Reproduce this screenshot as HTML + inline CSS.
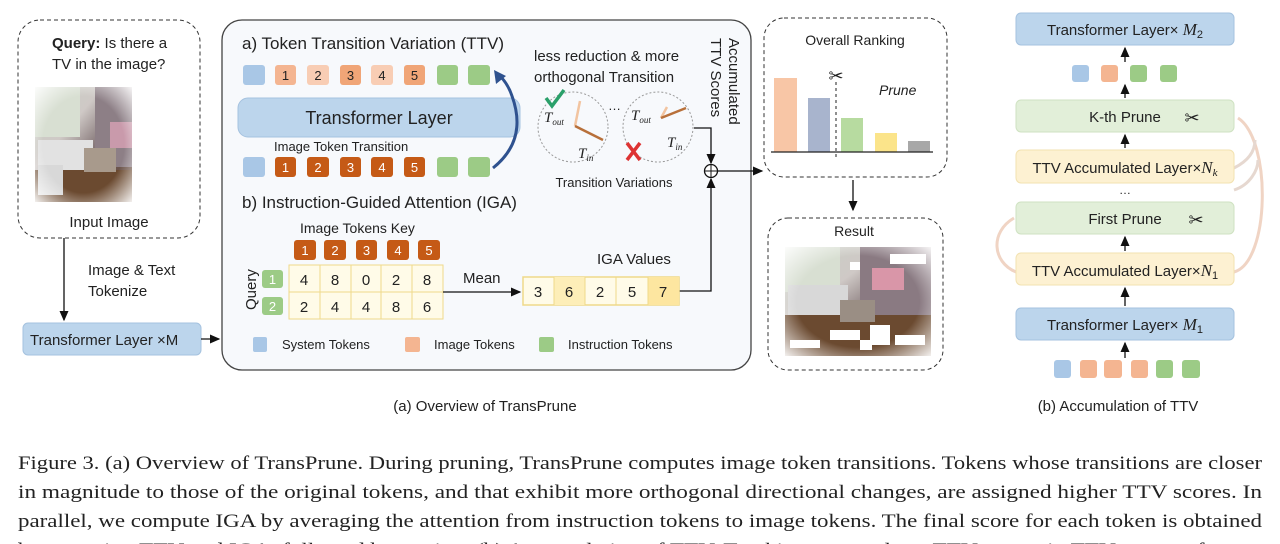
<!DOCTYPE html>
<html><head><meta charset="utf-8"><style>
html,body{margin:0;padding:0;background:#fff;}
svg{display:block;}
text{font-family:"Liberation Sans",sans-serif;fill:#222;}
.s{font-family:"Liberation Serif",serif;}
</style></head><body>
<svg width="1280" height="544" viewBox="0 0 1280 544" xmlns="http://www.w3.org/2000/svg">
<defs>
<marker id="ar" markerWidth="8" markerHeight="8" refX="7" refY="4" orient="auto"><path d="M0,0.5 L8,4 L0,7.5 z" fill="#111"/></marker>
<linearGradient id="room" x1="0" y1="0" x2="1" y2="1">
<stop offset="0" stop-color="#c8d0c4"/><stop offset="0.35" stop-color="#cfc9c6"/><stop offset="0.6" stop-color="#7a6a6c"/><stop offset="1" stop-color="#5a3a24"/></linearGradient>
<radialGradient id="vig" cx="0.5" cy="0.5" r="0.7"><stop offset="0.6" stop-color="#fff" stop-opacity="0"/><stop offset="1" stop-color="#fff" stop-opacity="0.9"/></radialGradient>
</defs>

<rect x="18" y="20" width="182" height="218" rx="22" fill="none" stroke="#333" stroke-dasharray="4,3"/>
<text x="52" y="48" font-size="15"><tspan font-weight="bold">Query:</tspan> Is there a</text>
<text x="52" y="69" font-size="15">TV in the image?</text>
<rect x="35" y="87" width="97" height="115" fill="url(#room)"/>
<rect x="35" y="87" width="45" height="50" fill="#d8dfd2"/>
<rect x="95" y="87" width="37" height="80" fill="#8d7f86"/>
<rect x="35" y="170" width="97" height="32" fill="#6b4a30"/>
<rect x="38" y="140" width="55" height="30" fill="#e2e2e2"/>
<rect x="38" y="165" width="25" height="30" fill="#d8d8d8"/>
<rect x="84" y="148" width="32" height="24" fill="#a89a8c"/>
<rect x="110" y="122" width="22" height="26" fill="#c99aab"/>
<rect x="35" y="87" width="97" height="115" fill="url(#vig)"/>
<text x="109" y="227" font-size="15" text-anchor="middle">Input Image</text>
<line x1="64" y1="238" x2="64" y2="320" stroke="#111" stroke-width="1.3" marker-end="url(#ar)"/>
<text x="88" y="275" font-size="15">Image &amp; Text</text>
<text x="88" y="296" font-size="15">Tokenize</text>
<rect x="23" y="323" width="178" height="32" rx="5" fill="#bcd5ec" stroke="#a5c2df"/>
<text x="30" y="345" font-size="15">Transformer Layer  ×M</text>
<line x1="201" y1="339" x2="219" y2="339" stroke="#111" stroke-width="1.3" marker-end="url(#ar)"/>

<rect x="222" y="20" width="529" height="350" rx="20" fill="#f7f9fc" stroke="#444" stroke-width="1.3"/>
<text x="242" y="49" font-size="17">a) Token Transition Variation (TTV)</text>
<rect x="243" y="65" width="22" height="20" rx="3" fill="#a9c7e6"/>
<g font-size="13" text-anchor="middle">
<rect x="275" y="65" width="21" height="20" rx="3" fill="#f4b591"/><text x="285.5" y="80">1</text>
<rect x="307" y="65" width="22" height="20" rx="3" fill="#f8cdb4"/><text x="318" y="80">2</text>
<rect x="340" y="65" width="21" height="20" rx="3" fill="#f0a577"/><text x="350.5" y="80">3</text>
<rect x="371" y="65" width="22" height="20" rx="3" fill="#f8cdb4"/><text x="382" y="80">4</text>
<rect x="404" y="65" width="21" height="20" rx="3" fill="#f0a577"/><text x="414.5" y="80">5</text>
</g>
<rect x="437" y="65" width="21" height="20" rx="3" fill="#9ccb86"/>
<rect x="468" y="65" width="22" height="20" rx="3" fill="#9ccb86"/>
<rect x="238" y="98" width="282" height="39" rx="10" fill="#bcd5ec" stroke="#a5c2df"/>
<text x="379" y="124" font-size="18" text-anchor="middle">Transformer Layer</text>
<text x="274" y="151" font-size="13">Image Token Transition</text>
<rect x="243" y="157" width="22" height="20" rx="3" fill="#a9c7e6"/>
<g font-size="13" text-anchor="middle">
<rect x="275" y="157" width="21" height="20" rx="3" fill="#c55a16"/><text x="285.5" y="172" style="fill:#fff">1</text>
<rect x="307" y="157" width="22" height="20" rx="3" fill="#c55a16"/><text x="318" y="172" style="fill:#fff">2</text>
<rect x="340" y="157" width="21" height="20" rx="3" fill="#c55a16"/><text x="350.5" y="172" style="fill:#fff">3</text>
<rect x="371" y="157" width="22" height="20" rx="3" fill="#c55a16"/><text x="382" y="172" style="fill:#fff">4</text>
<rect x="404" y="157" width="21" height="20" rx="3" fill="#c55a16"/><text x="414.5" y="172" style="fill:#fff">5</text>
</g>
<rect x="437" y="157" width="21" height="20" rx="3" fill="#9ccb86"/>
<rect x="468" y="157" width="22" height="20" rx="3" fill="#9ccb86"/>
<path d="M493,168 Q528,140 512,96 Q508,84 500,76" fill="none" stroke="#2f528f" stroke-width="3"/>
<path d="M494,70 L506,76 L496,84 z" fill="#2f528f"/>

<text x="534" y="61" font-size="15">less reduction &amp; more</text>
<text x="534" y="82" font-size="15">orthogonal Transition</text>
<circle cx="573" cy="127" r="35" fill="none" stroke="#999" stroke-dasharray="2,2"/>
<circle cx="658" cy="127" r="35" fill="none" stroke="#999" stroke-dasharray="2,2"/>
<path d="M546,98 L552,106 L564,90" fill="none" stroke="#2aa06a" stroke-width="3.5"/>
<line x1="575" y1="126" x2="580" y2="101" stroke="#f2c4a0" stroke-width="2.5"/>
<line x1="575" y1="126" x2="603" y2="140" stroke="#b8703a" stroke-width="2.5"/>
<text x="544" y="122" font-size="15" class="s" font-style="italic">T<tspan font-size="9" dy="3">out</tspan></text>
<text x="578" y="158" font-size="15" class="s" font-style="italic">T<tspan font-size="9" dy="3">in</tspan></text>
<text x="608" y="110" font-size="13">…</text>
<text x="631" y="120" font-size="15" class="s" font-style="italic">T<tspan font-size="9" dy="3">out</tspan></text>
<line x1="661" y1="118" x2="667" y2="107" stroke="#f2c4a0" stroke-width="2.5"/>
<line x1="661" y1="118" x2="686" y2="108" stroke="#b8703a" stroke-width="2.5"/>
<text x="667" y="147" font-size="15" class="s" font-style="italic">T<tspan font-size="9" dy="3">in</tspan></text>
<path d="M627,143 L640,160 M640,143 L627,160" stroke="#d33" stroke-width="3.5"/>
<text x="614" y="187" font-size="13" text-anchor="middle">Transition Variations</text>
<text transform="translate(729,38) rotate(90)" font-size="15">Accumulated</text>
<text transform="translate(711,38) rotate(90)" font-size="15">TTV Scores</text>
<polyline points="694,128 711,128 711,163" fill="none" stroke="#111" stroke-width="1.3" marker-end="url(#ar)"/>
<circle cx="711" cy="171" r="6.5" fill="#fff" stroke="#111" stroke-width="1.3"/>
<line x1="704.5" y1="171" x2="717.5" y2="171" stroke="#111"/>
<line x1="711" y1="164.5" x2="711" y2="177.5" stroke="#111"/>
<polyline points="679,291 711,291 711,179" fill="none" stroke="#111" stroke-width="1.3" marker-end="url(#ar)"/>
<line x1="717" y1="171" x2="762" y2="171" stroke="#111" stroke-width="1.3" marker-end="url(#ar)"/>

<text x="242" y="208" font-size="17">b) Instruction-Guided Attention (IGA)</text>
<text x="300" y="233" font-size="14">Image Tokens Key</text>
<g font-size="13" text-anchor="middle">
<rect x="294" y="240" width="22" height="20" rx="3" fill="#c55a16"/><text x="305" y="255" style="fill:#fff">1</text>
<rect x="324" y="240" width="22" height="20" rx="3" fill="#c55a16"/><text x="335" y="255" style="fill:#fff">2</text>
<rect x="356" y="240" width="21" height="20" rx="3" fill="#c55a16"/><text x="366.5" y="255" style="fill:#fff">3</text>
<rect x="387" y="240" width="22" height="20" rx="3" fill="#c55a16"/><text x="398" y="255" style="fill:#fff">4</text>
<rect x="418" y="240" width="22" height="20" rx="3" fill="#c55a16"/><text x="429" y="255" style="fill:#fff">5</text>
<rect x="262" y="270" width="21" height="18" rx="3" fill="#9ccb86"/><text x="272.5" y="284" style="fill:#fff">1</text>
<rect x="262" y="297" width="21" height="18" rx="3" fill="#9ccb86"/><text x="272.5" y="311" style="fill:#fff">2</text>
</g>
<text transform="translate(256,310) rotate(-90)" font-size="15">Query</text>
<rect x="289" y="265" width="154" height="54" fill="#fffbe8" stroke="#efd98a"/>
<g stroke="#efd98a"><line x1="320" y1="265" x2="320" y2="319"/><line x1="351" y1="265" x2="351" y2="319"/><line x1="381" y1="265" x2="381" y2="319"/><line x1="412" y1="265" x2="412" y2="319"/><line x1="289" y1="292" x2="443" y2="292"/></g>
<g font-size="15" text-anchor="middle">
<text x="304" y="285">4</text><text x="335" y="285">8</text><text x="366" y="285">0</text><text x="396" y="285">2</text><text x="427" y="285">8</text>
<text x="304" y="312">2</text><text x="335" y="312">4</text><text x="366" y="312">4</text><text x="396" y="312">8</text><text x="427" y="312">6</text>
</g>
<text x="463" y="283" font-size="15">Mean</text>
<line x1="443" y1="292" x2="520" y2="292" stroke="#111" stroke-width="1.3" marker-end="url(#ar)"/>
<text x="597" y="264" font-size="15">IGA Values</text>
<rect x="523" y="277" width="156" height="28" fill="#fffbe8" stroke="#efd98a" stroke-width="1.5"/>
<rect x="554" y="277" width="31" height="28" fill="#fdeeb8"/>
<rect x="648" y="277" width="31" height="28" fill="#fde6a0"/>
<g stroke="#efd98a"><line x1="554" y1="277" x2="554" y2="305"/><line x1="585" y1="277" x2="585" y2="305"/><line x1="616" y1="277" x2="616" y2="305"/><line x1="648" y1="277" x2="648" y2="305"/></g>
<g font-size="15" text-anchor="middle"><text x="538" y="297">3</text><text x="569" y="297">6</text><text x="600" y="297">2</text><text x="632" y="297">5</text><text x="663" y="297">7</text></g>
<rect x="253" y="337" width="14" height="15" rx="2" fill="#a9c7e6"/><text x="282" y="349" font-size="13">System Tokens</text>
<rect x="405" y="337" width="15" height="15" rx="2" fill="#f4b591"/><text x="434" y="349" font-size="13">Image Tokens</text>
<rect x="539" y="337" width="15" height="15" rx="2" fill="#9ccb86"/><text x="568" y="349" font-size="13">Instruction Tokens</text>

<rect x="764" y="18" width="183" height="159" rx="20" fill="none" stroke="#333" stroke-dasharray="4,3"/>
<text x="855" y="45" font-size="14" text-anchor="middle">Overall Ranking</text>
<rect x="774" y="78" width="23" height="74" fill="#f8c6a6"/>
<rect x="808" y="98" width="22" height="54" fill="#a8b4cd"/>
<rect x="841" y="118" width="22" height="34" fill="#b7dba0"/>
<rect x="875" y="133" width="22" height="19" fill="#fbe48a"/>
<rect x="908" y="141" width="22" height="11" fill="#a8a8a8"/>
<line x1="771" y1="152" x2="933" y2="152" stroke="#222" stroke-width="1.3"/>
<line x1="836" y1="82" x2="836" y2="160" stroke="#222" stroke-dasharray="3,3"/>
<text x="836" y="82" font-size="18" text-anchor="middle">✂</text>
<text x="879" y="95" font-size="14" font-style="italic">Prune</text>
<line x1="853" y1="180" x2="853" y2="210" stroke="#111" stroke-width="1.3" marker-end="url(#ar)"/>
<rect x="768" y="218" width="175" height="152" rx="20" fill="none" stroke="#333" stroke-dasharray="4,3"/>
<text x="854" y="236" font-size="14" text-anchor="middle">Result</text>
<rect x="785" y="247" width="146" height="109" fill="url(#room)"/>
<rect x="785" y="247" width="55" height="45" fill="#d8dfd2"/>
<rect x="860" y="247" width="71" height="70" fill="#8a7a82"/>
<rect x="785" y="315" width="146" height="41" fill="#6b4a30"/>
<rect x="788" y="285" width="60" height="30" fill="#d8d8d8"/>
<rect x="840" y="300" width="35" height="22" fill="#9a8e84"/>
<rect x="872" y="268" width="32" height="22" fill="#d996a8"/>
<g fill="#fff"><rect x="890" y="254" width="36" height="10"/><rect x="850" y="262" width="10" height="8"/><rect x="830" y="330" width="30" height="10"/><rect x="870" y="325" width="20" height="20"/><rect x="895" y="335" width="30" height="10"/><rect x="790" y="340" width="30" height="8"/><rect x="860" y="340" width="12" height="10"/></g>
<rect x="785" y="247" width="146" height="109" fill="url(#vig)"/>

<path d="M1234,272 C1270,262 1272,140 1238,118" fill="none" stroke="#f0d4c4" stroke-width="3"/>
<path d="M1234,168 C1250,160 1255,150 1255,140" fill="none" stroke="#e6d8d0" stroke-width="3"/>
<path d="M1234,190 C1250,185 1258,170 1258,160" fill="none" stroke="#e6d8d0" stroke-width="3"/>
<path d="M1016,272 C992,262 990,232 1014,218" fill="none" stroke="#f0d4c4" stroke-width="3"/>
<rect x="1016" y="13" width="218" height="32" rx="5" fill="#bcd5ec" stroke="#a5c2df"/>
<text x="1125" y="35" font-size="15" text-anchor="middle">Transformer Layer× <tspan class="s" font-style="italic" font-size="17">M</tspan><tspan font-size="11" dy="3">2</tspan></text>
<line x1="1125" y1="62" x2="1125" y2="48" stroke="#111" stroke-width="1.3" marker-end="url(#ar)"/>
<rect x="1072" y="65" width="17" height="17" rx="3" fill="#a9c7e6"/>
<rect x="1101" y="65" width="17" height="17" rx="3" fill="#f4b591"/>
<rect x="1130" y="65" width="17" height="17" rx="3" fill="#9ccb86"/>
<rect x="1160" y="65" width="17" height="17" rx="3" fill="#9ccb86"/>
<line x1="1125" y1="98" x2="1125" y2="85" stroke="#111" stroke-width="1.3" marker-end="url(#ar)"/>
<rect x="1016" y="100" width="218" height="32" rx="5" fill="#e2efd9" stroke="#cfe2c2"/>
<text x="1125" y="122" font-size="15" text-anchor="middle">K-th Prune</text>
<text x="1192" y="124" font-size="18" text-anchor="middle">✂</text>
<line x1="1125" y1="148" x2="1125" y2="135" stroke="#111" stroke-width="1.3" marker-end="url(#ar)"/>
<rect x="1016" y="150" width="218" height="33" rx="5" fill="#fdf1d2" stroke="#f2e2b0"/>
<text x="1125" y="173" font-size="15" text-anchor="middle">TTV Accumulated Layer×<tspan class="s" font-style="italic" font-size="17">N</tspan><tspan class="s" font-style="italic" font-size="11" dy="3">k</tspan></text>
<text x="1125" y="194" font-size="12" text-anchor="middle">…</text>
<rect x="1016" y="202" width="218" height="32" rx="5" fill="#e2efd9" stroke="#cfe2c2"/>
<text x="1125" y="224" font-size="15" text-anchor="middle">First Prune</text>
<text x="1196" y="226" font-size="18" text-anchor="middle">✂</text>
<line x1="1125" y1="251" x2="1125" y2="237" stroke="#111" stroke-width="1.3" marker-end="url(#ar)"/>
<rect x="1016" y="253" width="218" height="32" rx="5" fill="#fdf1d2" stroke="#f2e2b0"/>
<text x="1125" y="276" font-size="15" text-anchor="middle">TTV Accumulated Layer×<tspan class="s" font-style="italic" font-size="17">N</tspan><tspan font-size="11" dy="3">1</tspan></text>
<line x1="1125" y1="306" x2="1125" y2="288" stroke="#111" stroke-width="1.3" marker-end="url(#ar)"/>
<rect x="1016" y="308" width="218" height="32" rx="5" fill="#bcd5ec" stroke="#a5c2df"/>
<text x="1125" y="330" font-size="15" text-anchor="middle">Transformer Layer× <tspan class="s" font-style="italic" font-size="17">M</tspan><tspan font-size="11" dy="3">1</tspan></text>
<line x1="1125" y1="358" x2="1125" y2="343" stroke="#111" stroke-width="1.3" marker-end="url(#ar)"/>
<rect x="1054" y="360" width="17" height="18" rx="3" fill="#a9c7e6"/>
<rect x="1080" y="360" width="17" height="18" rx="3" fill="#f4b591"/>
<rect x="1104" y="360" width="18" height="18" rx="3" fill="#f4b591"/>
<rect x="1131" y="360" width="17" height="18" rx="3" fill="#f4b591"/>
<rect x="1156" y="360" width="17" height="18" rx="3" fill="#9ccb86"/>
<rect x="1182" y="360" width="18" height="18" rx="3" fill="#9ccb86"/>

<text x="485" y="411" font-size="15" text-anchor="middle">(a) Overview of TransPrune</text>
<text x="1118" y="411" font-size="15" text-anchor="middle">(b) Accumulation of TTV</text>

<g class="s" font-size="19">
<text class="s" x="18" y="469" textLength="1244" lengthAdjust="spacingAndGlyphs">Figure 3. (a) Overview of TransPrune. During pruning, TransPrune computes image token transitions. Tokens whose transitions are closer</text>
<text class="s" x="18" y="498" textLength="1244" lengthAdjust="spacingAndGlyphs">in magnitude to those of the original tokens, and that exhibit more orthogonal directional changes, are assigned higher TTV scores.  In</text>
<text class="s" x="18" y="527" textLength="1244" lengthAdjust="spacingAndGlyphs">parallel, we compute IGA by averaging the attention from instruction tokens to image tokens.  The final score for each token is obtained</text>
<text class="s" x="18" y="556" textLength="1244" lengthAdjust="spacingAndGlyphs">by summing TTV and IGA, followed by sorting. (b) Accumulation of TTV. Tracking accumulates TTV scores in TTV scores of every</text>
</g>
</svg>
</body></html>
